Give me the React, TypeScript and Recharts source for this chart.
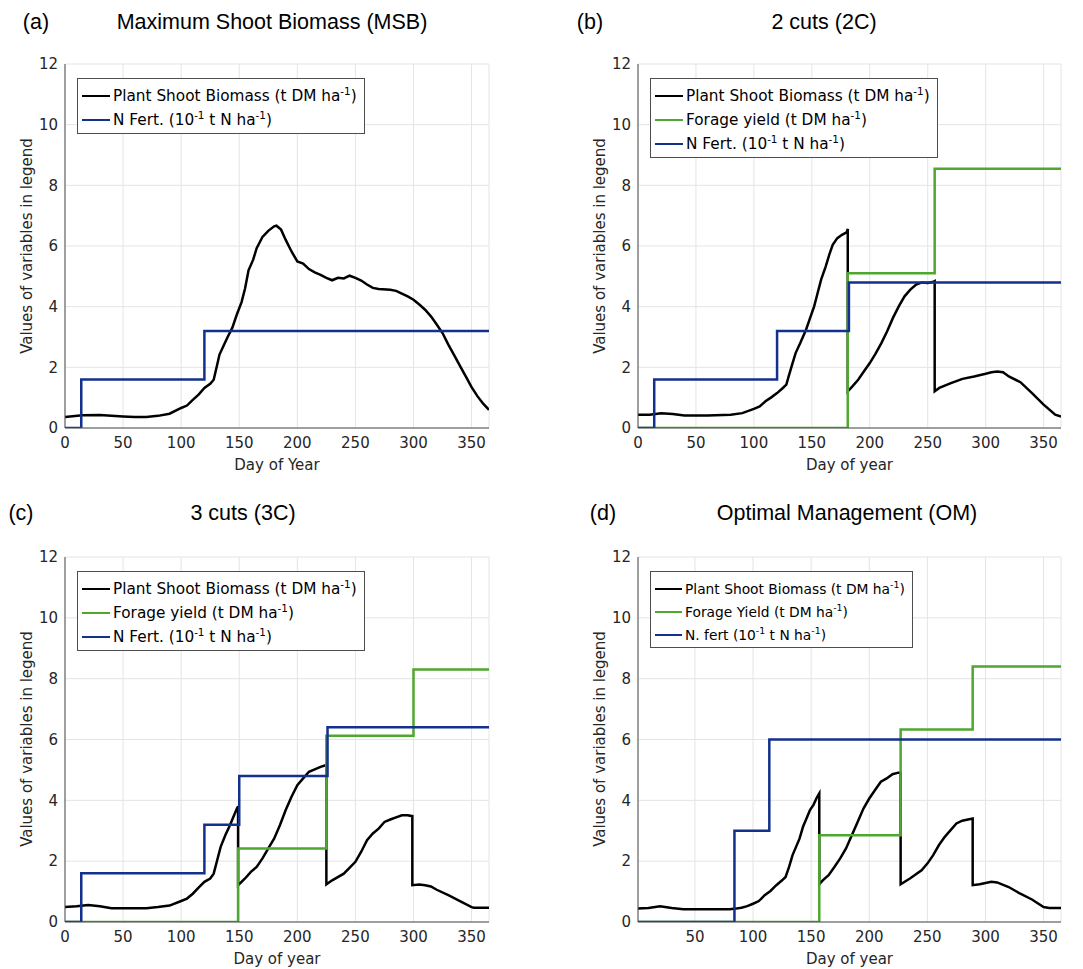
import React from 'react';
import { LineChart, Line, XAxis, YAxis, CartesianGrid, Legend } from 'recharts';

const BLACK = '#000000';
const GREEN = '#4ea72e';
const BLUE = '#12308c';

// (a) Maximum Shoot Biomass
const msbDays = [0, 15, 30, 50, 60, 70, 80, 90, 100, 105, 110, 115, 120, 125, 128, 130, 133, 137, 140, 144, 148, 152, 155, 158, 162, 165, 170, 175, 180, 182, 186, 190, 195, 200, 205, 210, 215, 220, 225, 230, 235, 240, 245, 250, 255, 260, 265, 270, 280, 285, 290, 295, 300, 305, 310, 315, 320, 325, 330, 335, 340, 345, 350, 355, 360, 365];
const msbBiomass = [0.36, 0.42, 0.43, 0.38, 0.36, 0.36, 0.4, 0.47, 0.66, 0.74, 0.93, 1.1, 1.32, 1.46, 1.59, 1.92, 2.42, 2.75, 3.0, 3.3, 3.75, 4.15, 4.6, 5.2, 5.55, 5.93, 6.3, 6.5, 6.65, 6.67, 6.54, 6.2, 5.82, 5.49, 5.42, 5.24, 5.13, 5.05, 4.95, 4.87, 4.95, 4.93, 5.02, 4.95, 4.86, 4.73, 4.62, 4.58, 4.56, 4.52, 4.43, 4.34, 4.23, 4.07, 3.9, 3.68, 3.41, 3.13, 2.75, 2.4, 2.05, 1.7, 1.35, 1.05, 0.8, 0.6];
const msbFertDays = [0, 14, 120, 365];
const msbFert = [0, 1.6, 3.2, 3.2];

// (b) 2 cuts
const c2Days = [0, 10, 20, 30, 40, 60, 80, 90, 100, 105, 110, 115, 120, 125, 128, 130, 133, 136, 140, 145, 148, 152, 155, 158, 162, 165, 168, 172, 176, 180, 181, 181, 185, 190, 195, 200, 205, 210, 215, 220, 225, 230, 235, 240, 245, 250, 255, 256, 256, 260, 270, 280, 290, 300, 305, 310, 315, 320, 330, 340, 350, 360, 365];
const c2Biomass = [0.44, 0.44, 0.49, 0.46, 0.41, 0.41, 0.44, 0.49, 0.63, 0.71, 0.88, 1.01, 1.15, 1.32, 1.43, 1.7, 2.09, 2.47, 2.8, 3.24, 3.57, 4.01, 4.45, 4.89, 5.33, 5.71, 6.04, 6.26, 6.37, 6.45, 6.56, 1.21, 1.37, 1.59, 1.87, 2.14, 2.45, 2.8, 3.19, 3.63, 4.01, 4.34, 4.56, 4.73, 4.8, 4.78, 4.82, 4.84, 1.21, 1.32, 1.48, 1.62, 1.7, 1.79, 1.84, 1.86, 1.84, 1.7, 1.51, 1.15, 0.77, 0.44, 0.38];
const c2YieldDays = [0, 181, 256, 365];
const c2Yield = [0, 5.1, 8.55, 8.55];
const c2FertDays = [0, 14, 120, 182, 365];
const c2Fert = [0, 1.6, 3.2, 4.8, 4.8];

// (c) 3 cuts
const c3Days = [0, 10, 20, 30, 40, 50, 70, 80, 90, 100, 105, 110, 115, 120, 125, 128, 131, 134, 138, 142, 145, 148, 149, 149, 155, 160, 165, 170, 175, 180, 185, 190, 195, 200, 205, 210, 215, 220, 225, 225, 230, 240, 250, 255, 260, 265, 270, 275, 280, 285, 290, 295, 299, 299, 305, 310, 315, 320, 330, 340, 350, 352, 365];
const c3Biomass = [0.49, 0.52, 0.56, 0.52, 0.45, 0.45, 0.45, 0.49, 0.54, 0.69, 0.77, 0.93, 1.13, 1.32, 1.43, 1.59, 2.03, 2.47, 2.85, 3.18, 3.46, 3.73, 3.8, 1.21, 1.43, 1.65, 1.81, 2.09, 2.42, 2.74, 3.18, 3.68, 4.12, 4.5, 4.72, 4.94, 5.02, 5.1, 5.16, 1.24, 1.37, 1.59, 1.98, 2.31, 2.69, 2.91, 3.07, 3.29, 3.37, 3.44, 3.51, 3.51, 3.48, 1.21, 1.23, 1.21, 1.17, 1.06, 0.88, 0.69, 0.49, 0.47, 0.47];
const c3YieldDays = [0, 149, 225, 300, 365];
const c3Yield = [0, 2.42, 6.12, 8.3, 8.3];
const c3FertDays = [0, 14, 120, 150, 226, 365];
const c3Fert = [0, 1.6, 3.2, 4.8, 6.4, 6.4];

// (d) Optimal management
const omDays = [1, 10, 20, 30, 40, 50, 80, 85, 90, 95, 100, 105, 110, 115, 120, 125, 128, 131, 134, 137, 140, 143, 146, 149, 152, 155, 157, 157, 160, 165, 170, 175, 180, 185, 190, 195, 200, 205, 210, 215, 220, 225, 227, 227, 235, 245, 250, 255, 260, 265, 270, 275, 280, 285, 289, 289, 295, 305, 310, 320, 330, 340, 350, 355, 365];
const omBiomass = [0.44, 0.46, 0.52, 0.46, 0.42, 0.42, 0.42, 0.44, 0.47, 0.52, 0.6, 0.69, 0.88, 1.02, 1.21, 1.37, 1.48, 1.81, 2.2, 2.47, 2.74, 3.13, 3.4, 3.68, 3.85, 4.1, 4.23, 1.24, 1.37, 1.54, 1.81, 2.09, 2.42, 2.85, 3.29, 3.73, 4.06, 4.34, 4.61, 4.72, 4.86, 4.91, 4.91, 1.24, 1.43, 1.7, 1.92, 2.2, 2.53, 2.8, 3.02, 3.24, 3.33, 3.37, 3.4, 1.21, 1.24, 1.32, 1.3, 1.15, 0.93, 0.74, 0.49, 0.46, 0.46];
const omYieldDays = [1, 157, 227, 289, 365];
const omYield = [0, 2.85, 6.33, 8.4, 8.4];
const omFertDays = [1, 84, 114, 365];
const omFert = [0, 3.0, 6.0, 6.0];

const yTicks = [0, 2, 4, 6, 8, 10, 12];
const xTicks = [0, 50, 100, 150, 200, 250, 300, 350];
const xTicksOM = [50, 100, 150, 200, 250, 300, 350];

const zip = (xs: number[], ys: number[]) => xs.map((x, i) => ({ x, y: ys[i] }));

const renderName = (name: string) => {
  const parts = name.split('^-1');
  return parts.map((p, i) => (
    <React.Fragment key={i}>
      {p}
      {i < parts.length - 1 && (
        <span style={{ fontSize: '0.68em', position: 'relative', top: '-0.55em', lineHeight: 0 }}>-1</span>
      )}
    </React.Fragment>
  ));
};

const makeLegend = (fontSize: number, rowH: number, sample: number, order: string[]) => (props: any) => {
  const items = [...(props.payload || [])].sort((a: any, b: any) => order.indexOf(a.value) - order.indexOf(b.value));
  return (
    <div
      style={{
        border: '1px solid #4d4d4d',
        background: '#fff',
        padding: '5px 7px 1px 4px',
        fontFamily: 'DejaVu Sans',
        fontSize,
        color: '#000',
        whiteSpace: 'nowrap',
      }}
    >
      {items.map((p: any) => (
        <div key={p.value} style={{ display: 'flex', alignItems: 'center', height: rowH }}>
          <span style={{ display: 'inline-block', width: sample, height: 0, borderTop: `2.5px solid ${p.color}`, marginRight: 3 }} />
          <span>{renderName(p.value)}</span>
        </div>
      ))}
    </div>
  );
};

type Series = { name: string; color: string; step?: boolean; data: { x: number; y: number }[] };

type PanelProps = {
  left: number;
  top: number;
  width: number;
  height: number;
  margin: { top: number; right: number; bottom: number; left: number };
  domain: [number, number];
  ticks: number[];
  series: Series[];
  legendPos: { left: number; top: number };
  legendFont: number;
  legendRow: number;
  legendSample: number;
  xLabel: string;
};

const tickStyle = { fontSize: 15, fill: '#262626', fontFamily: 'DejaVu Sans' };

function Panel(p: PanelProps) {
  const order = p.series.map((s) => s.name);
  return (
    <div style={{ position: 'absolute', left: p.left, top: p.top, width: p.width, height: p.height }}>
      <LineChart width={p.width} height={p.height} margin={p.margin}>
        <CartesianGrid stroke="#e4e4e4" />
        <XAxis
          type="number"
          dataKey="x"
          domain={p.domain}
          ticks={p.ticks}
          allowDataOverflow
          height={30}
          tickSize={0}
          tickMargin={9}
          tickLine={false}
          stroke="#4d4d4d"
          tick={tickStyle}
          label={{ value: p.xLabel, position: 'bottom', offset: 1, style: { fontSize: 15, fill: '#262626', fontFamily: 'DejaVu Sans' } }}
        />
        <YAxis
          type="number"
          dataKey="y"
          domain={[0, 12]}
          ticks={yTicks}
          allowDataOverflow
          width={30}
          tickSize={0}
          tickMargin={7}
          tickLine={false}
          stroke="#4d4d4d"
          tick={tickStyle}
        />
        {p.series.map((s) => (
          <Line
            key={s.name}
            data={s.data}
            dataKey="y"
            name={s.name}
            type={s.step ? 'stepAfter' : 'linear'}
            stroke={s.color}
            strokeWidth={2.5}
            dot={false}
            activeDot={false}
            isAnimationActive={false}
          />
        ))}
        <Legend
          layout="vertical"
          align="center"
          verticalAlign="middle"
          wrapperStyle={{ left: p.legendPos.left, top: p.legendPos.top, width: 'auto', height: 'auto' }}
          content={makeLegend(p.legendFont, p.legendRow, p.legendSample, order)}
        />
      </LineChart>
    </div>
  );
}

const textBase: React.CSSProperties = {
  position: 'absolute',
  transform: 'translate(-50%, -50%)',
  whiteSpace: 'nowrap',
  color: '#000',
};

function Title({ x, y, text }: { x: number; y: number; text: string }) {
  return <div style={{ ...textBase, left: x, top: y, fontFamily: 'Liberation Sans', fontSize: 21.5 }}>{text}</div>;
}

function YLabel({ x, y }: { x: number; y: number }) {
  return (
    <div
      style={{
        ...textBase,
        left: x,
        top: y,
        transform: 'translate(-50%, -50%) rotate(-90deg)',
        fontFamily: 'DejaVu Sans',
        fontSize: 15,
        color: '#262626',
      }}
    >
      Values of variables in legend
    </div>
  );
}

const PSB = 'Plant Shoot Biomass (t DM ha^-1)';

export default function App() {
  const marginA = { top: 64, right: 51, bottom: 22, left: 35 };
  const marginB = { top: 64, right: 19, bottom: 22, left: 68 };
  const marginC = { top: 77, right: 51, bottom: 17, left: 35 };
  const marginD = { top: 77, right: 19, bottom: 17, left: 68 };
  return (
    <div style={{ position: 'absolute', left: 0, top: 0, width: 1083, height: 969, background: '#fff', overflow: 'hidden' }}>
      <Panel
        left={0}
        top={0}
        width={540}
        height={480}
        margin={marginA}
        domain={[0, 365]}
        ticks={xTicks}
        xLabel="Day of Year"
        legendPos={{ left: 77, top: 78 }}
        legendFont={15.3}
        legendRow={24}
        legendSample={28}
        series={[
          { name: PSB, color: BLACK, data: zip(msbDays, msbBiomass) },
          { name: 'N Fert. (10^-1 t N ha^-1)', color: BLUE, step: true, data: zip(msbFertDays, msbFert) },
        ]}
      />
      <Panel
        left={540}
        top={0}
        width={540}
        height={480}
        margin={marginB}
        domain={[0, 365]}
        ticks={xTicks}
        xLabel="Day of year"
        legendPos={{ left: 110, top: 78 }}
        legendFont={15.3}
        legendRow={24}
        legendSample={28}
        series={[
          { name: PSB, color: BLACK, data: zip(c2Days, c2Biomass) },
          { name: 'Forage yield (t DM ha^-1)', color: GREEN, step: true, data: zip(c2YieldDays, c2Yield) },
          { name: 'N Fert. (10^-1 t N ha^-1)', color: BLUE, step: true, data: zip(c2FertDays, c2Fert) },
        ]}
      />
      <Panel
        left={0}
        top={480}
        width={540}
        height={489}
        margin={marginC}
        domain={[0, 365]}
        ticks={xTicks}
        xLabel="Day of year"
        legendPos={{ left: 77, top: 91 }}
        legendFont={15.3}
        legendRow={24}
        legendSample={28}
        series={[
          { name: PSB, color: BLACK, data: zip(c3Days, c3Biomass) },
          { name: 'Forage yield (t DM ha^-1)', color: GREEN, step: true, data: zip(c3YieldDays, c3Yield) },
          { name: 'N Fert. (10^-1 t N ha^-1)', color: BLUE, step: true, data: zip(c3FertDays, c3Fert) },
        ]}
      />
      <Panel
        left={540}
        top={480}
        width={540}
        height={489}
        margin={marginD}
        domain={[1, 365]}
        ticks={xTicksOM}
        xLabel="Day of year"
        legendPos={{ left: 110, top: 91 }}
        legendFont={13.8}
        legendRow={23}
        legendSample={27}
        series={[
          { name: PSB, color: BLACK, data: zip(omDays, omBiomass) },
          { name: 'Forage Yield (t DM ha^-1)', color: GREEN, step: true, data: zip(omYieldDays, omYield) },
          { name: 'N. fert (10^-1 t N ha^-1)', color: BLUE, step: true, data: zip(omFertDays, omFert) },
        ]}
      />

      <Title x={36} y={22} text="(a)" />
      <Title x={272} y={22} text="Maximum Shoot Biomass (MSB)" />
      <Title x={590} y={22} text="(b)" />
      <Title x={824} y={22} text="2 cuts (2C)" />
      <Title x={21} y={513} text="(c)" />
      <Title x={243} y={513} text="3 cuts (3C)" />
      <Title x={603} y={513} text="(d)" />
      <Title x={847} y={513} text="Optimal Management (OM)" />

      <YLabel x={27} y={246} />
      <YLabel x={600} y={246} />
      <YLabel x={27} y={739} />
      <YLabel x={600} y={739} />
    </div>
  );
}
